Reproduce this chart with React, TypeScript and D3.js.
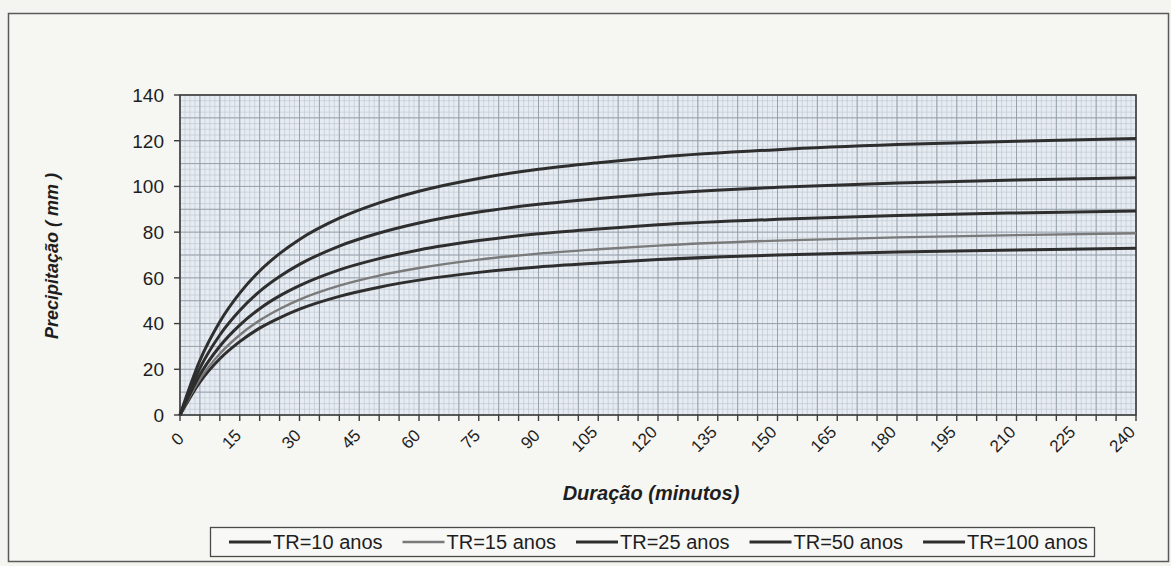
import React from "react";
import * as d3 from "d3";

const durations = [0, 5, 10, 15, 20, 25, 30, 40, 50, 60, 75, 90, 105, 120, 150, 180, 210, 240];
const tr10 = [0, 14.4, 24.6, 32.1, 38.0, 42.5, 46.3, 51.9, 55.9, 59.0, 62.4, 64.8, 66.5, 68.0, 70.0, 71.3, 72.2, 72.9];
const tr15 = [0, 15.7, 26.8, 35.0, 41.4, 46.4, 50.5, 56.6, 61.0, 64.3, 68.0, 70.6, 72.5, 74.1, 76.3, 77.7, 78.7, 79.5];
const tr25 = [0, 17.6, 30.1, 39.3, 46.5, 52.1, 56.6, 63.5, 68.4, 72.2, 76.3, 79.3, 81.4, 83.2, 85.6, 87.3, 88.4, 89.3];
const tr50 = [0, 20.5, 35.0, 45.7, 54.1, 60.6, 65.9, 73.9, 79.6, 84.0, 88.8, 92.2, 94.7, 96.8, 99.6, 101.5, 102.8, 103.8];
const tr100 = [0, 23.9, 40.8, 53.3, 63.0, 70.6, 76.8, 86.1, 92.8, 97.9, 103.5, 107.5, 110.4, 112.8, 116.1, 118.3, 119.8, 121.0];

const seriesNames = ["TR=10 anos", "TR=15 anos", "TR=25 anos", "TR=50 anos", "TR=100 anos"];
const seriesValues = [tr10, tr15, tr25, tr50, tr100];
const seriesColors = ["#2e2e2e", "#7a7a7a", "#2e2e2e", "#2e2e2e", "#2e2e2e"];
const seriesWidths = [3, 2.4, 3, 3, 3];

const xTickValues = d3.range(0, 241, 5);
const xLabelValues = d3.range(0, 241, 15);
const yTickValues = d3.range(0, 141, 20);

const FONT = "'Liberation Sans', Arial, Helvetica, sans-serif";

function measure(text: string, font: string): number {
  if (typeof document === "undefined") return text.length * 9;
  const c = document.createElement("canvas");
  const ctx = c.getContext("2d");
  if (!ctx) return text.length * 9;
  ctx.font = font;
  return ctx.measureText(text).width;
}

export default function App() {
  const W = 1171;
  const H = 566;
  const L = 180, R = 1136, T = 95, B = 415;
  const x = d3.scaleLinear().domain([0, 240]).range([L, R]);
  const y = d3.scaleLinear().domain([0, 140]).range([B, T]);

  const line = d3
    .line<[number, number]>()
    .x((d) => x(d[0]))
    .y((d) => y(d[1]))
    .curve(d3.curveMonotoneX);

  const minorV = d3.range(0, 240.01, 1.25);
  const majorV = d3.range(0, 240.01, 5);
  const minorH = d3.range(0, 140.01, 2.5);
  const majorH = d3.range(0, 140.01, 10);

  const xLabelFont = `17px ${FONT}`;
  const legendFont = `20px ${FONT}`;

  // legend layout
  const legendLine = 42;
  const legendGap = 2;
  const legendSpacing = 20;
  let lx = 229;
  const legendItems = seriesNames.map((n, i) => {
    const w = measure(n, legendFont);
    const item = { name: n, x: lx, w, i };
    lx += legendLine + legendGap + w + legendSpacing;
    return item;
  });

  return (
    <div style={{ position: "fixed", left: 0, top: 0 }}>
      <svg width={W} height={H} style={{ display: "block" }} fontFamily={FONT}>
        <rect x={0} y={0} width={W} height={H} fill="#f4f4f1" />
        <rect x={8.5} y={13.5} width={1160} height={548} fill="#f6f6f3" stroke="#5a5a5a" strokeWidth={1.5} />

        {/* plot area */}
        <rect x={L} y={T} width={R - L} height={B - T} fill="#e6ecf2" />
        <g>
          {minorV.map((v, i) => (
            <line key={"mv" + i} x1={x(v)} x2={x(v)} y1={T} y2={B} stroke="#bcc5ce" strokeWidth={0.6} />
          ))}
          {minorH.map((v, i) => (
            <line key={"mh" + i} x1={L} x2={R} y1={y(v)} y2={y(v)} stroke="#bcc5ce" strokeWidth={0.6} />
          ))}
          {majorV.map((v, i) => (
            <line key={"Mv" + i} x1={x(v)} x2={x(v)} y1={T} y2={B} stroke="#939da7" strokeWidth={0.9} />
          ))}
          {majorH.map((v, i) => (
            <line key={"Mh" + i} x1={L} x2={R} y1={y(v)} y2={y(v)} stroke="#939da7" strokeWidth={0.9} />
          ))}
        </g>
        <rect x={L} y={T} width={R - L} height={B - T} fill="none" stroke="#3c3c3c" strokeWidth={1.6} />

        {/* y axis */}
        {yTickValues.map((v) => (
          <g key={"yt" + v}>
            <line x1={L - 6} x2={L} y1={y(v)} y2={y(v)} stroke="#3c3c3c" strokeWidth={1.4} />
            <text x={164} y={y(v)} dy="0.36em" textAnchor="end" fontSize={19} fill="#1e1e1e">
              {v}
            </text>
          </g>
        ))}

        {/* x axis ticks */}
        {xTickValues.map((v) => (
          <line key={"xt" + v} x1={x(v)} x2={x(v)} y1={B} y2={B + 6} stroke="#3c3c3c" strokeWidth={1.4} />
        ))}
        {xLabelValues.map((v) => {
          const s = String(v);
          const w = measure(s, xLabelFont);
          const cx = x(v) - 0.6 * w + 3;
          const cy = 439;
          return (
            <text
              key={"xl" + v}
              x={cx}
              y={cy}
              dy="0.35em"
              textAnchor="middle"
              fontSize={17}
              fill="#1e1e1e"
              transform={`rotate(-45 ${cx} ${cy})`}
            >
              {s}
            </text>
          );
        })}

        {/* series */}
        {seriesValues.map((vals, i) => (
          <path
            key={"s" + i}
            d={line(durations.map((t, j) => [t, vals[j]] as [number, number])) || ""}
            fill="none"
            stroke={seriesColors[i]}
            strokeWidth={seriesWidths[i]}
            strokeLinejoin="round"
          />
        ))}

        {/* axis titles */}
        <text
          x={651}
          y={493}
          dy="0.35em"
          textAnchor="middle"
          fontSize={20}
          fontWeight="bold"
          fontStyle="italic"
          fill="#1e1e1e"
        >
          Duração (minutos)
        </text>
        <text
          x={52}
          y={256}
          dy="0.35em"
          textAnchor="middle"
          fontSize={18}
          fontWeight="bold"
          fontStyle="italic"
          fill="#1e1e1e"
          transform="rotate(-90 52 256)"
        >
          Precipitação ( mm )
        </text>

        {/* legend */}
        <rect x={210.5} y={527.5} width={884} height={29} fill="#f8f8f6" stroke="#4a4a4a" strokeWidth={1.3} />
        {legendItems.map((it) => (
          <g key={"lg" + it.i}>
            <line
              x1={it.x}
              x2={it.x + legendLine}
              y1={542}
              y2={542}
              stroke={seriesColors[it.i]}
              strokeWidth={seriesWidths[it.i]}
            />
            <text x={it.x + legendLine + legendGap} y={542} dy="0.35em" fontSize={20} fill="#1e1e1e">
              {it.name}
            </text>
          </g>
        ))}
      </svg>
    </div>
  );
}
